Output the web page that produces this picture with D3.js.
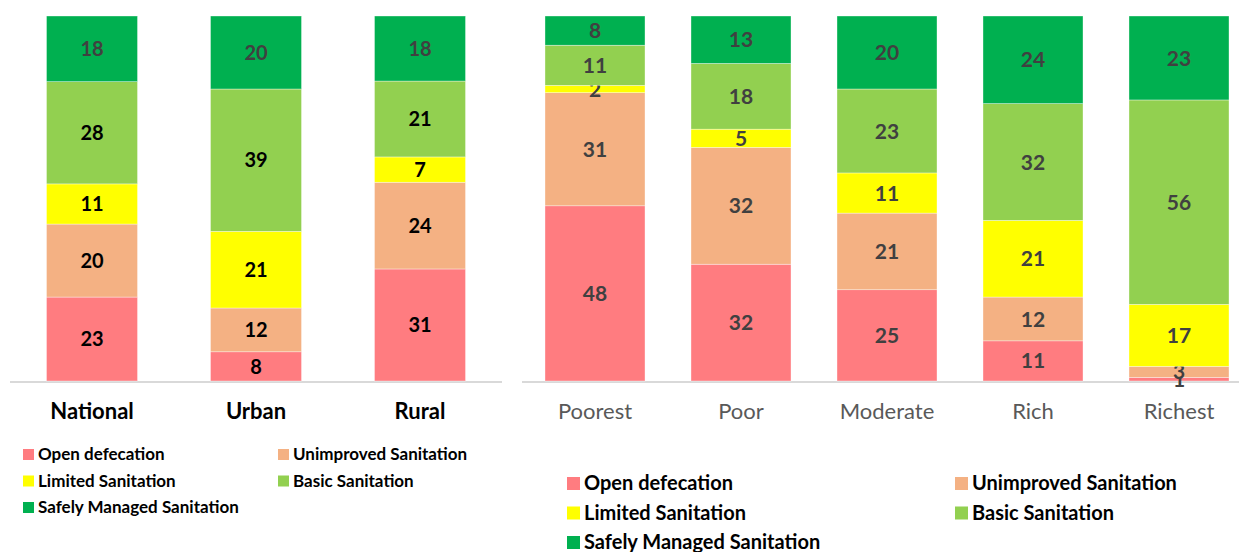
<!DOCTYPE html>
<html>
<head>
<meta charset="utf-8">
<script src="https://cdn.jsdelivr.net/npm/d3@7"></script>
<style>
  html, body { margin: 0; padding: 0; background: #fff; }
  svg { display: block; font-family: Lato, "Open Sans", sans-serif; }
</style>
</head>
<body>
<svg id="chart" width="1239" height="552"></svg>
<script>
// ---- data ----
const seriesNames = ["Open defecation", "Unimproved Sanitation", "Limited Sanitation", "Basic Sanitation", "Safely Managed Sanitation"];
const seriesColors = ["#FF7C80", "#F4B183", "#FFFF00", "#92D050", "#00B050"];

const categoriesLeft = ["National", "Urban", "Rural"];
const openDefecationLeft = [23, 8, 31];
const unimprovedLeft = [20, 12, 24];
const limitedLeft = [11, 21, 7];
const basicLeft = [28, 39, 21];
const safelyManagedLeft = [18, 20, 18];

const categoriesRight = ["Poorest", "Poor", "Moderate", "Rich", "Richest"];
const openDefecationRight = [48, 32, 25, 11, 1];
const unimprovedRight = [31, 32, 21, 12, 3];
const limitedRight = [2, 5, 11, 21, 17];
const basicRight = [11, 18, 23, 32, 56];
const safelyManagedRight = [8, 13, 20, 24, 23];

const svg = d3.select("#chart");

function buildRows(cats, arrays) {
  return cats.map((c, i) => {
    const row = { cat: c };
    seriesNames.forEach((s, j) => row[s] = arrays[j][i]);
    return row;
  });
}

function drawPanel(opts) {
  const rows = buildRows(opts.cats, opts.arrays);
  const stack = d3.stack().keys(seriesNames).offset(d3.stackOffsetExpand);
  const layers = stack(rows);
  const x = d3.scaleBand().domain(opts.cats).range(opts.xRange)
    .paddingInner(opts.pad).paddingOuter(opts.pad / 2);
  const y = d3.scaleLinear().domain([0, 1]).range([381, 16]);

  const g = svg.append("g");
  // axis line
  g.append("line")
    .attr("x1", opts.xRange[0]).attr("x2", opts.axisEnd)
    .attr("y1", y(0) + 1).attr("y2", y(0) + 1)
    .attr("stroke", "#D9D9D9").attr("stroke-width", 2);

  layers.forEach((layer, li) => {
    const lg = g.append("g");
    lg.selectAll("rect").data(layer).join("rect")
      .attr("x", d => x(d.data.cat))
      .attr("width", x.bandwidth())
      .attr("y", d => y(d[1]))
      .attr("height", d => y(d[0]) - y(d[1]))
      .attr("fill", seriesColors[li])
      .attr("stroke", "#ffffff").attr("stroke-width", 0.6).attr("stroke-opacity", 0.6);
    lg.selectAll("text").data(layer).join("text")
      .attr("x", d => x(d.data.cat) + x.bandwidth() / 2)
      .attr("y", d => (y(d[0]) + y(d[1])) / 2)
      .attr("dy", "0.36em")
      .attr("text-anchor", "middle")
      .attr("font-weight", "bold")
      .attr("font-size", opts.labelSize)
      .attr("fill", opts.labelColor(li))
      .text(d => d.data[layer.key]);
  });

  // category labels
  const xAxis = d3.axisBottom(x).tickSize(0).tickPadding(0);
  const ax = g.append("g").attr("transform", `translate(0,${opts.catY})`).call(xAxis);
  ax.select(".domain").remove();
  ax.selectAll("text")
    .attr("font-family", "Lato, 'Open Sans', sans-serif")
    .attr("font-size", opts.catSize)
    .attr("font-weight", opts.catWeight)
    .attr("fill", opts.catColor)
    .attr("dy", "0");

  // legend
  const lgd = g.append("g");
  seriesNames.forEach((s, i) => {
    const col = i % 2, row = Math.floor(i / 2);
    const lx = opts.legend.x0 + col * opts.legend.colW;
    const ly = opts.legend.y0 + row * opts.legend.rowH;
    lgd.append("rect").attr("x", lx).attr("y", ly - opts.legend.sq)
      .attr("width", opts.legend.sq).attr("height", opts.legend.sq)
      .attr("fill", seriesColors[i]);
    lgd.append("text").attr("x", lx + opts.legend.sq + opts.legend.gap).attr("y", ly)
      .attr("font-size", opts.legend.size).attr("font-weight", "bold").attr("fill", "#000")
      .text(s);
  });
}

drawPanel({
  cats: categoriesLeft,
  arrays: [openDefecationLeft, unimprovedLeft, limitedLeft, basicLeft, safelyManagedLeft],
  xRange: [10, 502], axisEnd: 502, pad: 0.445,
  labelSize: 20,
  labelColor: li => li === 4 ? "#404040" : "#000000",
  catY: 419, catSize: 22, catWeight: "bold", catColor: "#000",
  legend: { x0: 23, y0: 460, colW: 255, rowH: 26.5, sq: 11, gap: 4, size: 17 }
});

drawPanel({
  cats: categoriesRight,
  arrays: [openDefecationRight, unimprovedRight, limitedRight, basicRight, safelyManagedRight],
  xRange: [522, 1252], axisEnd: 1239, pad: 0.315,
  labelSize: 21,
  labelColor: li => "#404040",
  catY: 419, catSize: 22, catWeight: "normal", catColor: "#595959",
  legend: { x0: 567, y0: 490, colW: 388, rowH: 29.5, sq: 13, gap: 4, size: 20 }
});
</script>
</body>
</html>
